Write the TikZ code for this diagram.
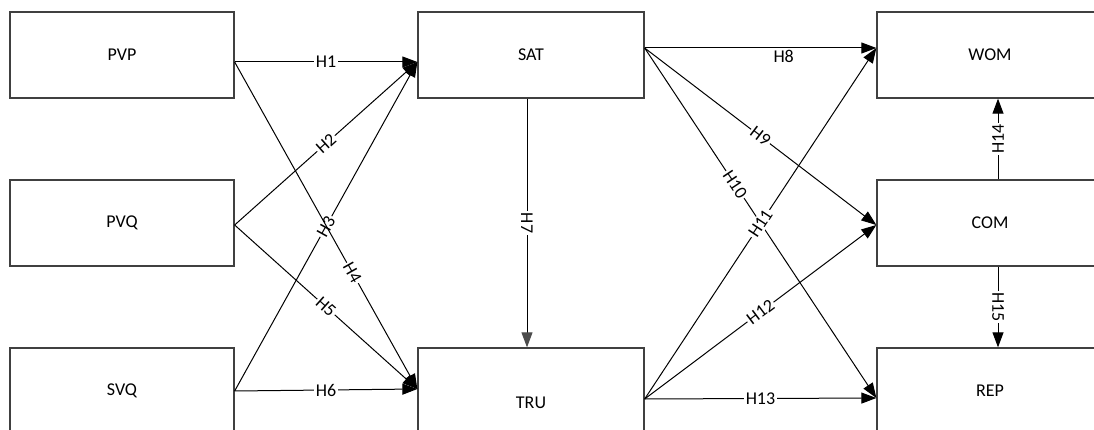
\documentclass[tikz,border=0pt]{standalone}
\usepackage{fontspec}
\setmainfont{Carlito}
\usetikzlibrary{arrows.meta}
\begin{document}
\begin{tikzpicture}[x=1pt,y=-1pt,
  box/.style={draw=black!75, line width=1.3pt, minimum width=226pt,
    minimum height=86pt, inner sep=0pt, font=\fontsize{18}{20}\selectfont},
  link/.style={line width=1pt, -{Triangle[length=15pt,width=11pt]}},
  hyp/.style={fill=white, inner sep=1.5pt, font=\fontsize{18}{20}\selectfont}]
\useasboundingbox (0,0) rectangle (1094,430);
\clip (0,0) rectangle (1094,430);

% constructs
\node[box, minimum width=224pt] (pvp) at (122,55) {PVP};
\node[box, minimum width=224pt] (pvq) at (122,223) {PVQ};
\node[box, minimum width=224pt] (svq) at (122,391) {SVQ};
\node[box] (sat) at (531,55) {SAT};
\node[box, minimum height=110pt] (tru) at (531,403) {TRU};
\node[box] (wom) at (990,55) {WOM};
\node[box] (com) at (990,223) {COM};
\node[box] (rep) at (990,391) {REP};

% connection ports on the box sides
\coordinate (pvp-out) at ([yshift=-7pt]pvp.east);
\coordinate (pvq-out) at ([yshift=-2pt]pvq.east);
\coordinate (svq-out) at (svq.east);
\coordinate (sat-in)  at ([yshift=-7pt]sat.west);
\coordinate (sat-out) at ([yshift=7pt]sat.east);
\coordinate (sat-down) at ([xshift=-4pt]sat.south);
\coordinate (tru-in)  at ([yshift=14pt]tru.west);
\coordinate (tru-top) at ([xshift=-4pt]tru.north);
\coordinate (tru-out) at ([yshift=4pt]tru.east);
\coordinate (wom-in)  at ([yshift=7pt]wom.west);
\coordinate (wom-low) at ([xshift=8pt]wom.south);
\coordinate (com-in)  at ([yshift=-2pt]com.west);
\coordinate (com-top) at ([xshift=8pt]com.north);
\coordinate (com-low) at ([xshift=8pt]com.south);
\coordinate (rep-in)  at ([yshift=-7pt]rep.west);
\coordinate (rep-top) at ([xshift=8pt]rep.north);

% hypotheses
\draw[link] (pvp-out) -- node[hyp] {H1} (sat-in);
\draw[link] (pvq-out) -- node[hyp, sloped] {H2} (sat-in);
\draw[link] (svq-out) -- node[hyp, sloped] {H3} (sat-in);
\draw[link] (pvp-out) -- node[hyp, sloped, pos=0.645] {H4} (tru-in);
\draw[link] (pvq-out) -- node[hyp, sloped] {H5} (tru-in);
\draw[link] (svq-out) -- node[hyp] {H6} (tru-in);
\draw[line width=1pt, -{Triangle[length=15pt,width=11pt,color=black!70]}]
  (sat-down) -- node[hyp, sloped] {H7} (tru-top);
\draw[link] (sat-out) -- node[hyp, fill=none, pos=0.6, below] {H8} (wom-in);
\draw[link] (sat-out) -- node[hyp, sloped] {H9} (com-in);
\draw[link] (sat-out) -- node[hyp, sloped, pos=0.39] {H10} (rep-in);
\draw[link] (tru-out) -- node[hyp, sloped] {H11} (wom-in);
\draw[link] (tru-out) -- node[hyp, sloped] {H12} (com-in);
\draw[link] (tru-out) -- node[hyp] {H13} (rep-in);
\draw[link] (com-top) -- node[hyp, sloped] {H14} (wom-low);
\draw[link] (com-low) -- node[hyp, sloped] {H15} (rep-top);
\end{tikzpicture}
\end{document}
